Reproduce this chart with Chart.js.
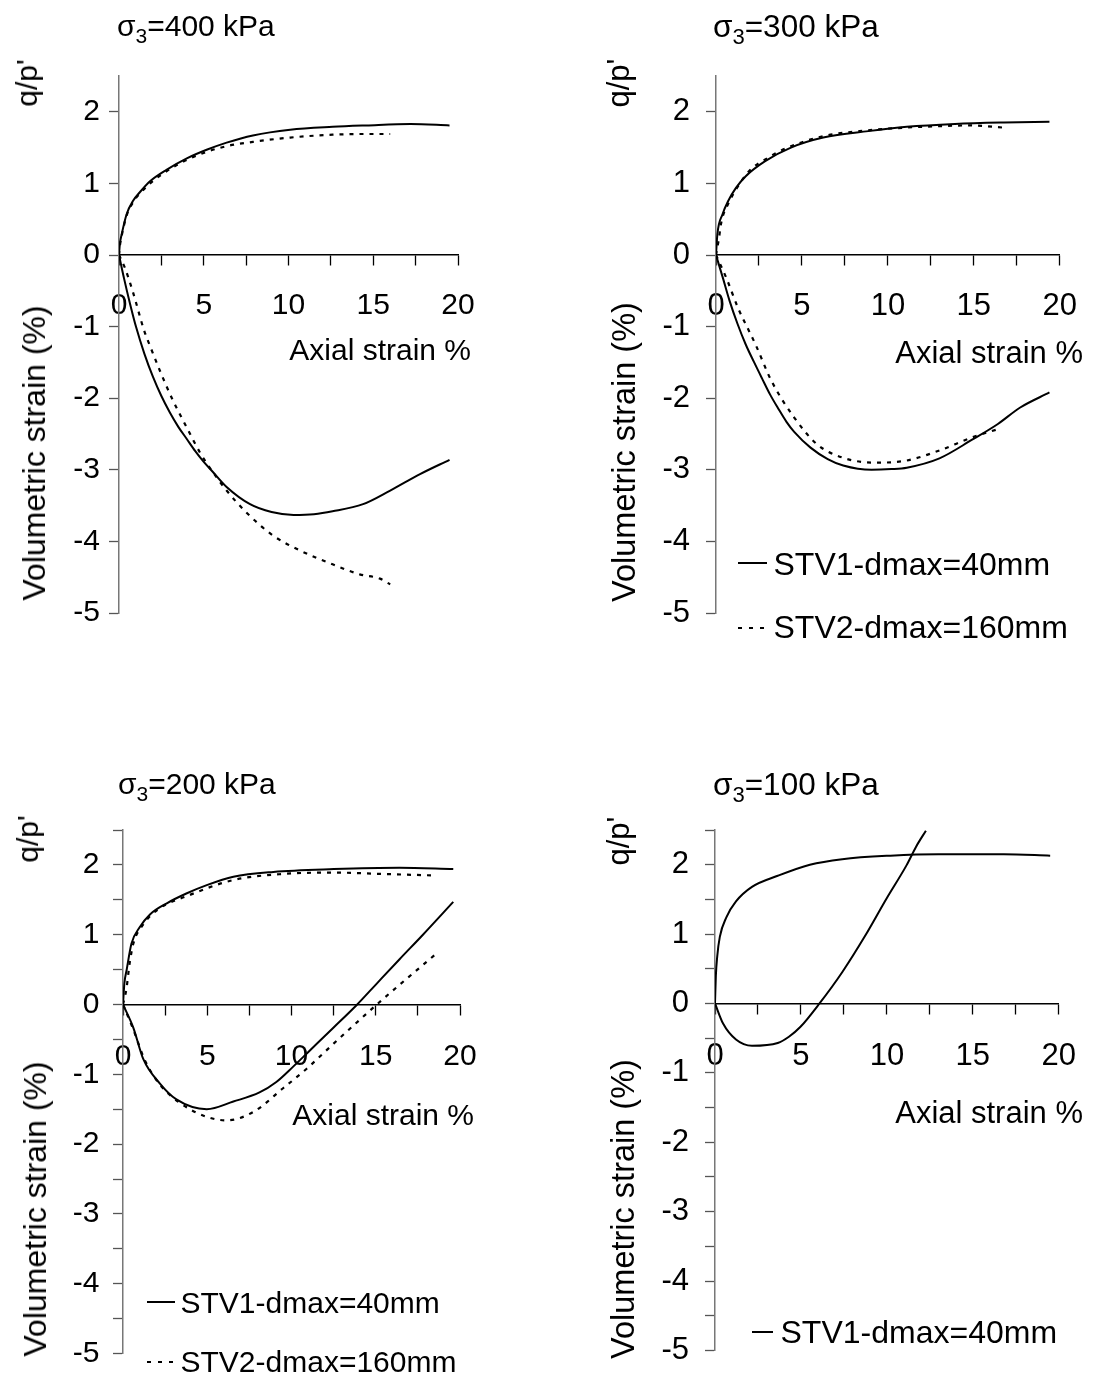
<!DOCTYPE html>
<html><head><meta charset="utf-8">
<script src="https://cdn.jsdelivr.net/npm/chart.js@4.4.1/dist/chart.umd.min.js"></script>
<style>
html,body{margin:0;padding:0;background:#fff;}
body{width:1100px;height:1385px;position:relative;overflow:hidden;font-family:"Liberation Sans",Arial,sans-serif;color:#000;}
canvas{position:absolute;}
.t{position:absolute;white-space:nowrap;line-height:1;z-index:2;}
.r{position:absolute;white-space:nowrap;line-height:1;z-index:2;transform:translate(-50%,-50%) rotate(-90deg);}
.sub{font-size:0.7em;position:relative;top:0.32em;}
svg{position:absolute;z-index:2;}
</style></head><body>

<canvas id="c400" width="550" height="690" style="left:0px;top:0px"></canvas>
<canvas id="c300" width="550" height="690" style="left:550px;top:0px"></canvas>
<canvas id="c200" width="550" height="695" style="left:0px;top:690px"></canvas>
<canvas id="c100" width="550" height="695" style="left:550px;top:690px"></canvas>

<!-- titles -->
<div class="t" style="left:117px;top:11px;font-size:30px">σ<span class="sub">3</span>=400 kPa</div>
<div class="t" style="left:713px;top:11px;font-size:31.5px">σ<span class="sub">3</span>=300 kPa</div>
<div class="t" style="left:118px;top:769px;font-size:30px">σ<span class="sub">3</span>=200 kPa</div>
<div class="t" style="left:713px;top:769px;font-size:31.5px">σ<span class="sub">3</span>=100 kPa</div>

<!-- y titles -->
<div class="r" style="left:27px;top:83px;font-size:30px">q/p'</div>
<div class="r" style="left:34px;top:453px;font-size:32px">Volumetric strain (%)</div>
<div class="r" style="left:618px;top:83px;font-size:31px">q/p'</div>
<div class="r" style="left:624px;top:452px;font-size:32.5px">Volumetric strain (%)</div>
<div class="r" style="left:28px;top:839px;font-size:30px">q/p'</div>
<div class="r" style="left:35px;top:1209px;font-size:32px">Volumetric strain (%)</div>
<div class="r" style="left:618px;top:841px;font-size:31px">q/p'</div>
<div class="r" style="left:623px;top:1209px;font-size:32.5px">Volumetric strain (%)</div>

<!-- x titles -->
<div class="t" style="right:629px;top:334.6px;font-size:30px">Axial strain %</div>
<div class="t" style="right:17px;top:336.8px;font-size:31px">Axial strain %</div>
<div class="t" style="right:626px;top:1099.6px;font-size:30px">Axial strain %</div>
<div class="t" style="right:17px;top:1096.8px;font-size:31px">Axial strain %</div>

<!-- legends -->
<svg style="left:738px;top:553px" width="30" height="20"><line x1="0" y1="10" x2="29" y2="10" stroke="#000" stroke-width="2"/></svg>
<div class="t" style="left:773.5px;top:547.9px;font-size:32px">STV1-dmax=40mm</div>
<svg style="left:738px;top:618px" width="30" height="20"><line x1="0" y1="10" x2="27" y2="10" stroke="#000" stroke-width="2" stroke-dasharray="4,7"/></svg>
<div class="t" style="left:773.5px;top:610.9px;font-size:32px">STV2-dmax=160mm</div>

<svg style="left:147px;top:1292px" width="30" height="20"><line x1="0" y1="10" x2="28" y2="10" stroke="#000" stroke-width="2"/></svg>
<div class="t" style="left:180.5px;top:1287.6px;font-size:30px">STV1-dmax=40mm</div>
<svg style="left:147px;top:1352px" width="30" height="20"><line x1="0" y1="10" x2="26" y2="10" stroke="#000" stroke-width="2" stroke-dasharray="4,7"/></svg>
<div class="t" style="left:180.5px;top:1346.6px;font-size:30px">STV2-dmax=160mm</div>

<svg style="left:752px;top:1322px" width="24" height="20"><line x1="0" y1="10" x2="21" y2="10" stroke="#000" stroke-width="2"/></svg>
<div class="t" style="left:780.5px;top:1315.9px;font-size:32px">STV1-dmax=40mm</div>

<script>
// ---------- tick values and labels ----------
const xTickValues = [0, 2.5, 5, 7.5, 10, 12.5, 15, 17.5, 20];
const xTickLabels = ['0', '', '5', '', '10', '', '15', '', '20'];
const yTickValuesTop = [-5, -4, -3, -2, -1, 0, 1, 2];
const yTickLabelsTop = ['-5', '-4', '-3', '-2', '-1', '0', '1', '2'];
const yTickValuesBottom = [-5, -4.5, -4, -3.5, -3, -2.5, -2, -1.5, -1, -0.5, 0, 0.5, 1, 1.5, 2, 2.5];
const yTickLabelsBottom = ['-5', '', '-4', '', '-3', '', '-2', '', '-1', '', '0', '', '1', '', '2', ''];

// ---------- series: [axial strain %, value] ----------
// sigma3 = 400 kPa
const s400_q_STV1 = [[0,0],[0.05,0.15],[0.16,0.29],[0.45,0.57],[0.84,0.76],[1.24,0.88],[1.83,1.03],[2.8,1.19],[4.0,1.35],[5.17,1.47],[6.35,1.57],[7.9,1.67],[10.1,1.75],[12.6,1.79],[14.6,1.81],[17.2,1.83],[19.5,1.81]];
const s400_q_STV2 = [[0,0],[0.06,0.14],[0.16,0.27],[0.45,0.55],[0.84,0.74],[1.24,0.86],[1.83,1.0],[2.8,1.17],[4.0,1.33],[5.17,1.44],[6.35,1.52],[7.9,1.58],[10.1,1.64],[12.6,1.68],[14.6,1.69],[16.0,1.69]];
const s400_ev_STV1 = [[0,0],[0.3,-0.33],[0.65,-0.68],[1.0,-1.0],[1.5,-1.38],[2.0,-1.7],[2.5,-1.97],[3.0,-2.2],[3.5,-2.4],[4.0,-2.57],[4.5,-2.74],[5.0,-2.89],[5.5,-3.02],[6.35,-3.24],[7.73,-3.48],[9.0,-3.59],[10.3,-3.63],[11.5,-3.62],[12.6,-3.58],[14.4,-3.48],[16.0,-3.29],[17.76,-3.06],[19.5,-2.86]];
const s400_ev_STV2 = [[0,0],[0.35,-0.18],[0.8,-0.5],[1.49,-1.06],[1.83,-1.27],[2.42,-1.62],[3.2,-2.04],[4.0,-2.41],[4.78,-2.76],[5.5,-3.02],[6.35,-3.29],[7.53,-3.6],[9.1,-3.92],[10.7,-4.13],[12.6,-4.32],[14.2,-4.46],[15.4,-4.52],[16.0,-4.6]];
// sigma3 = 300 kPa
const s300_q_STV1 = [[0,0],[0.08,0.29],[0.38,0.57],[0.7,0.75],[1.17,0.94],[1.73,1.1],[2.86,1.31],[4.36,1.5],[6.24,1.64],[8.86,1.73],[11.1,1.79],[13.9,1.83],[16.75,1.85],[19.4,1.86]];
const s300_q_STV2 = [[0,0],[0.15,0.2],[0.32,0.47],[0.7,0.71],[1.2,0.93],[1.92,1.17],[3.04,1.36],[4.17,1.5],[6.24,1.66],[8.8,1.74],[11.1,1.78],[13.0,1.8],[14.9,1.81],[16.66,1.78]];
const s300_ev_STV1 = [[0,0],[0.4,-0.32],[0.79,-0.64],[1.25,-0.96],[1.73,-1.25],[2.2,-1.49],[2.67,-1.72],[3.15,-1.95],[3.61,-2.14],[4.1,-2.33],[4.55,-2.47],[5.5,-2.69],[6.5,-2.85],[7.4,-2.94],[9.05,-3.0],[10.2,-2.99],[11.1,-2.97],[13.0,-2.84],[14.9,-2.58],[16.4,-2.36],[17.7,-2.13],[19.4,-1.92]];
const s300_ev_STV2 = [[0,0],[0.6,-0.32],[1.3,-0.75],[1.92,-1.06],[2.3,-1.25],[3.23,-1.76],[4.55,-2.27],[5.86,-2.64],[7.36,-2.83],[9.24,-2.9],[11.1,-2.87],[13.0,-2.73],[14.87,-2.55],[16.56,-2.42]];
// sigma3 = 200 kPa
const s200_q_STV1 = [[0,0],[0.08,0.3],[0.22,0.5],[0.5,0.87],[1.0,1.11],[1.6,1.29],[2.6,1.45],[3.76,1.59],[4.97,1.71],[6.55,1.83],[8.92,1.9],[12.5,1.94],[16.4,1.96],[19.6,1.94]];
const s200_q_STV2 = [[0,0],[0.2,0.22],[0.4,0.6],[0.61,0.87],[1.21,1.15],[2.18,1.38],[3.76,1.55],[6.5,1.78],[9.5,1.87],[12.5,1.89],[15.4,1.87],[18.3,1.85]];
const s200_ev_STV1 = [[0,0],[0.61,-0.33],[1.2,-0.78],[2.18,-1.13],[3.17,-1.36],[4.97,-1.5],[6.55,-1.39],[8.1,-1.26],[9.1,-1.11],[10.1,-0.89],[11.0,-0.68],[12.5,-0.33],[13.9,0],[15.06,0.3],[16.4,0.645],[17.8,1.0],[19.6,1.47]];
const s200_ev_STV2 = [[0,0],[0.6,-0.35],[1.3,-0.8],[2.2,-1.15],[3.38,-1.41],[4.97,-1.61],[6.15,-1.66],[7.73,-1.54],[9.5,-1.2],[10.9,-0.92],[12.5,-0.56],[14.0,-0.23],[15.06,0],[16.4,0.28],[18.6,0.73]];
// sigma3 = 100 kPa
const s100_q_STV1 = [[0,0],[0.05,0.4],[0.13,0.68],[0.28,0.96],[0.66,1.24],[1.22,1.47],[2.15,1.68],[3.65,1.84],[5.52,2.0],[7.4,2.08],[10.2,2.13],[13.0,2.15],[16.8,2.15],[19.5,2.13]];
const s100_ev_STV1 = [[0,0],[0.47,-0.29],[1.22,-0.52],[2.15,-0.61],[3.65,-0.57],[4.3,-0.48],[4.96,-0.34],[6.08,0],[7.4,0.45],[8.7,0.96],[10.0,1.52],[11.14,1.99],[11.7,2.26],[12.27,2.49]];

// ---------- styles / layout ----------
const FONT = '"Liberation Sans", Arial, sans-serif';
const Y_AXIS_W = 70;
const panels = [
  {id:'c400', box:{x:0,y:0,w:550,h:690}, area:{l:119,r:458,t:76,b:613}, fs:30, yPad:9, xPad:23,
   yv:yTickValuesTop, yl:yTickLabelsTop,
   series:[[s400_q_STV1,false],[s400_q_STV2,true],[s400_ev_STV1,false],[s400_ev_STV2,true]]},
  {id:'c300', box:{x:550,y:0,w:550,h:690}, area:{l:716,r:1071,t:76,b:613}, fs:31, yPad:16, xPad:23,
   yv:yTickValuesTop, yl:yTickLabelsTop,
   series:[[s300_q_STV1,false],[s300_q_STV2,true],[s300_ev_STV1,false],[s300_ev_STV2,true]]},
  {id:'c200', box:{x:0,y:690,w:550,h:695}, area:{l:123,r:460,t:830,b:1369}, fs:30, yPad:13.5, xPad:24,
   yv:yTickValuesBottom, yl:yTickLabelsBottom,
   series:[[s200_q_STV1,false],[s200_q_STV2,true],[s200_ev_STV1,false],[s200_ev_STV2,true]]},
  {id:'c100', box:{x:550,y:690,w:550,h:695}, area:{l:715,r:1071,t:830,b:1369}, fs:31, yPad:16, xPad:24,
   yv:yTickValuesBottom, yl:yTickLabelsBottom,
   series:[[s100_q_STV1,false],[s100_ev_STV1,false]]}
];

panels.forEach(p => {
  const datasets = p.series.map(([pts, dotted]) => ({
    data: pts.map(([x, y]) => ({x, y})),
    borderColor: '#000',
    borderWidth: dotted ? 2.2 : 2,
    borderDash: dotted ? [4, 6] : [],
    pointRadius: 0,
    fill: false,
    cubicInterpolationMode: 'monotone'
  }));
  new Chart(document.getElementById(p.id), {
    type: 'line',
    data: {datasets},
    options: {
      responsive: false,
      animation: false,
      events: [],
      layout: {padding: {
        left: p.area.l - p.box.x - Y_AXIS_W,
        right: p.box.x + p.box.w - p.area.r,
        top: p.area.t - p.box.y,
        bottom: p.box.y + p.box.h - p.area.b
      }},
      plugins: {legend: {display: false}, tooltip: {enabled: false}, title: {display: false}},
      scales: {
        x: {
          type: 'linear', min: 0, max: 20, position: {y: 0},
          afterBuildTicks: s => { s.ticks = xTickValues.map(v => ({value: v})); },
          ticks: {autoSkip: false, maxRotation: 0, padding: p.xPad, color: '#000',
                  font: {family: FONT, size: p.fs},
                  callback: (v) => xTickLabels[xTickValues.indexOf(v)] ?? ''},
          grid: {display: true, drawOnChartArea: false, drawTicks: true, tickLength: 10, tickColor: '#000', tickWidth: 1.3},
          border: {display: true, color: '#000', width: 1.5}
        },
        y: {
          type: 'linear', min: -5, max: 2.5, position: 'left',
          afterFit: s => { s.width = Y_AXIS_W; },
          afterBuildTicks: s => { s.ticks = p.yv.map(v => ({value: v})); },
          ticks: {autoSkip: false, padding: p.yPad, color: '#000',
                  font: {family: FONT, size: p.fs},
                  callback: (v) => p.yl[p.yv.indexOf(v)] ?? ''},
          grid: {display: true, drawOnChartArea: false, drawTicks: true, tickLength: 10, tickColor: '#555', tickWidth: 1.3},
          border: {display: true, color: '#777', width: 1.5}
        }
      }
    }
  });
});
</script>
</body></html>
